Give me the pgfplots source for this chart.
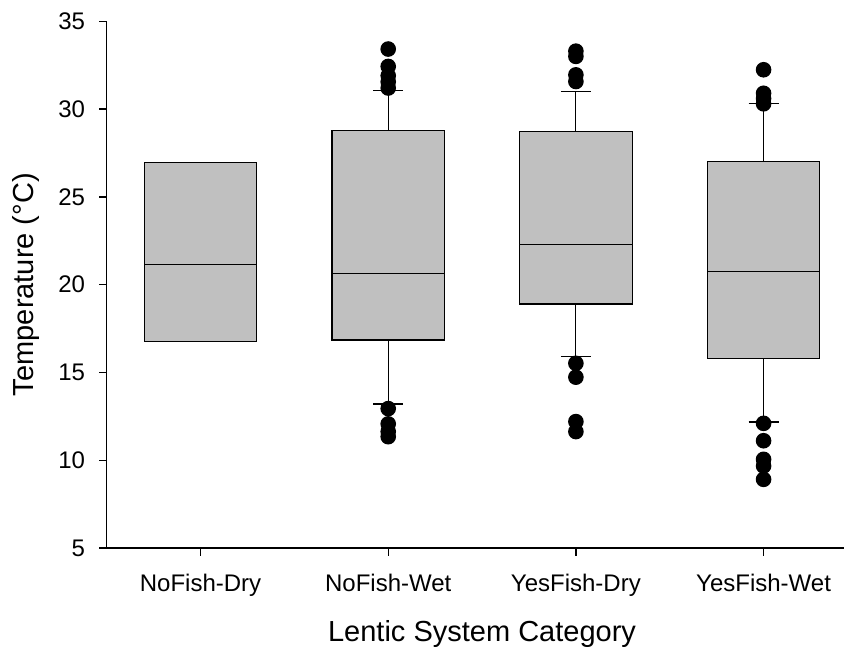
\documentclass[border=0pt]{standalone}
\usepackage{fontspec}
\setmainfont{Liberation Sans}
\usepackage{pgfplots}
\pgfplotsset{compat=1.18}
\usepgfplotslibrary{statistics}
\definecolor{boxgray}{RGB}{192,192,192}
\begin{document}
\begin{tikzpicture}
\begin{axis}[
  name=ax,
  at={(0,0)}, anchor=south west,
  scale only axis,
  width=375.35pt, height=263.35pt,
  xmin=0.5, xmax=4.5,
  ymin=5, ymax=35,
  ytick={5,10,...,35},
  xtick={1,2,3,4},
  xticklabels={NoFish-Dry,NoFish-Wet,YesFish-Dry,YesFish-Wet},
  axis lines*=left,
  tick align=outside,
  major tick length=3.8pt,
  axis line style={line width=0.7pt, black},
  tick style={line width=0.7pt, black},
  ticklabel style={font=\fontsize{12}{14}\selectfont},
  yticklabel style={xshift=-3.5pt},
  xticklabel style={yshift=-5.5pt},
  /pgf/number format/assume math mode=true,
  xlabel={Lentic System Category},
  ylabel={Temperature (°C)},
  label style={font=\fontsize{14.5}{17}\selectfont},
  xlabel style={at={(axis description cs:0.5,-0.1779)}, anchor=base},
  ylabel style={at={(axis description cs:-0.0978,0.5)}, anchor=base},
  boxplot/draw direction=y,
  boxplot/box extend=0.6,
  boxplot/whisker extend=0.16,
  clip=false,
]
\addplot[draw=black, fill=boxgray, line width=0.6pt, mark=*, mark size=3.6pt,
  mark options={fill=black, draw=black},
  boxplot prepared={draw position=1, lower whisker=16.74, lower quartile=16.74,
    median=21.14, upper quartile=26.94, upper whisker=26.94}]
  coordinates {};
\addplot[draw=black, fill=boxgray, line width=0.6pt, mark=*, mark size=3.6pt,
  mark options={fill=black, draw=black},
  boxplot prepared={draw position=2, lower whisker=13.2, lower quartile=16.85,
    median=20.65, upper quartile=28.76, upper whisker=31.06}]
  table[row sep=\\, y index=0] {33.42\\ 32.43\\ 31.9\\ 31.55\\ 31.2\\ 12.94\\ 12.07\\ 11.63\\ 11.34\\};
\addplot[draw=black, fill=boxgray, line width=0.6pt, mark=*, mark size=3.6pt,
  mark options={fill=black, draw=black},
  boxplot prepared={draw position=3, lower whisker=15.9, lower quartile=18.9,
    median=22.3, upper quartile=28.72, upper whisker=31.0}]
  table[row sep=\\, y index=0] {33.3\\ 33.0\\ 31.95\\ 31.57\\ 15.52\\ 14.73\\ 12.2\\ 11.63\\};
\addplot[draw=black, fill=boxgray, line width=0.6pt, mark=*, mark size=3.6pt,
  mark options={fill=black, draw=black},
  boxplot prepared={draw position=4, lower whisker=12.18, lower quartile=15.81,
    median=20.74, upper quartile=27.01, upper whisker=30.3}]
  table[row sep=\\, y index=0] {32.24\\ 30.9\\ 30.6\\ 30.3\\ 12.1\\ 11.11\\ 10.05\\ 9.67\\ 8.91\\};
\end{axis}
\pgfresetboundingbox
\path[use as bounding box] ([shift={(-53.35pt,-52pt)}]ax.south west) rectangle ([shift={(368.65pt,274pt)}]ax.south west);
\end{tikzpicture}
\end{document}
